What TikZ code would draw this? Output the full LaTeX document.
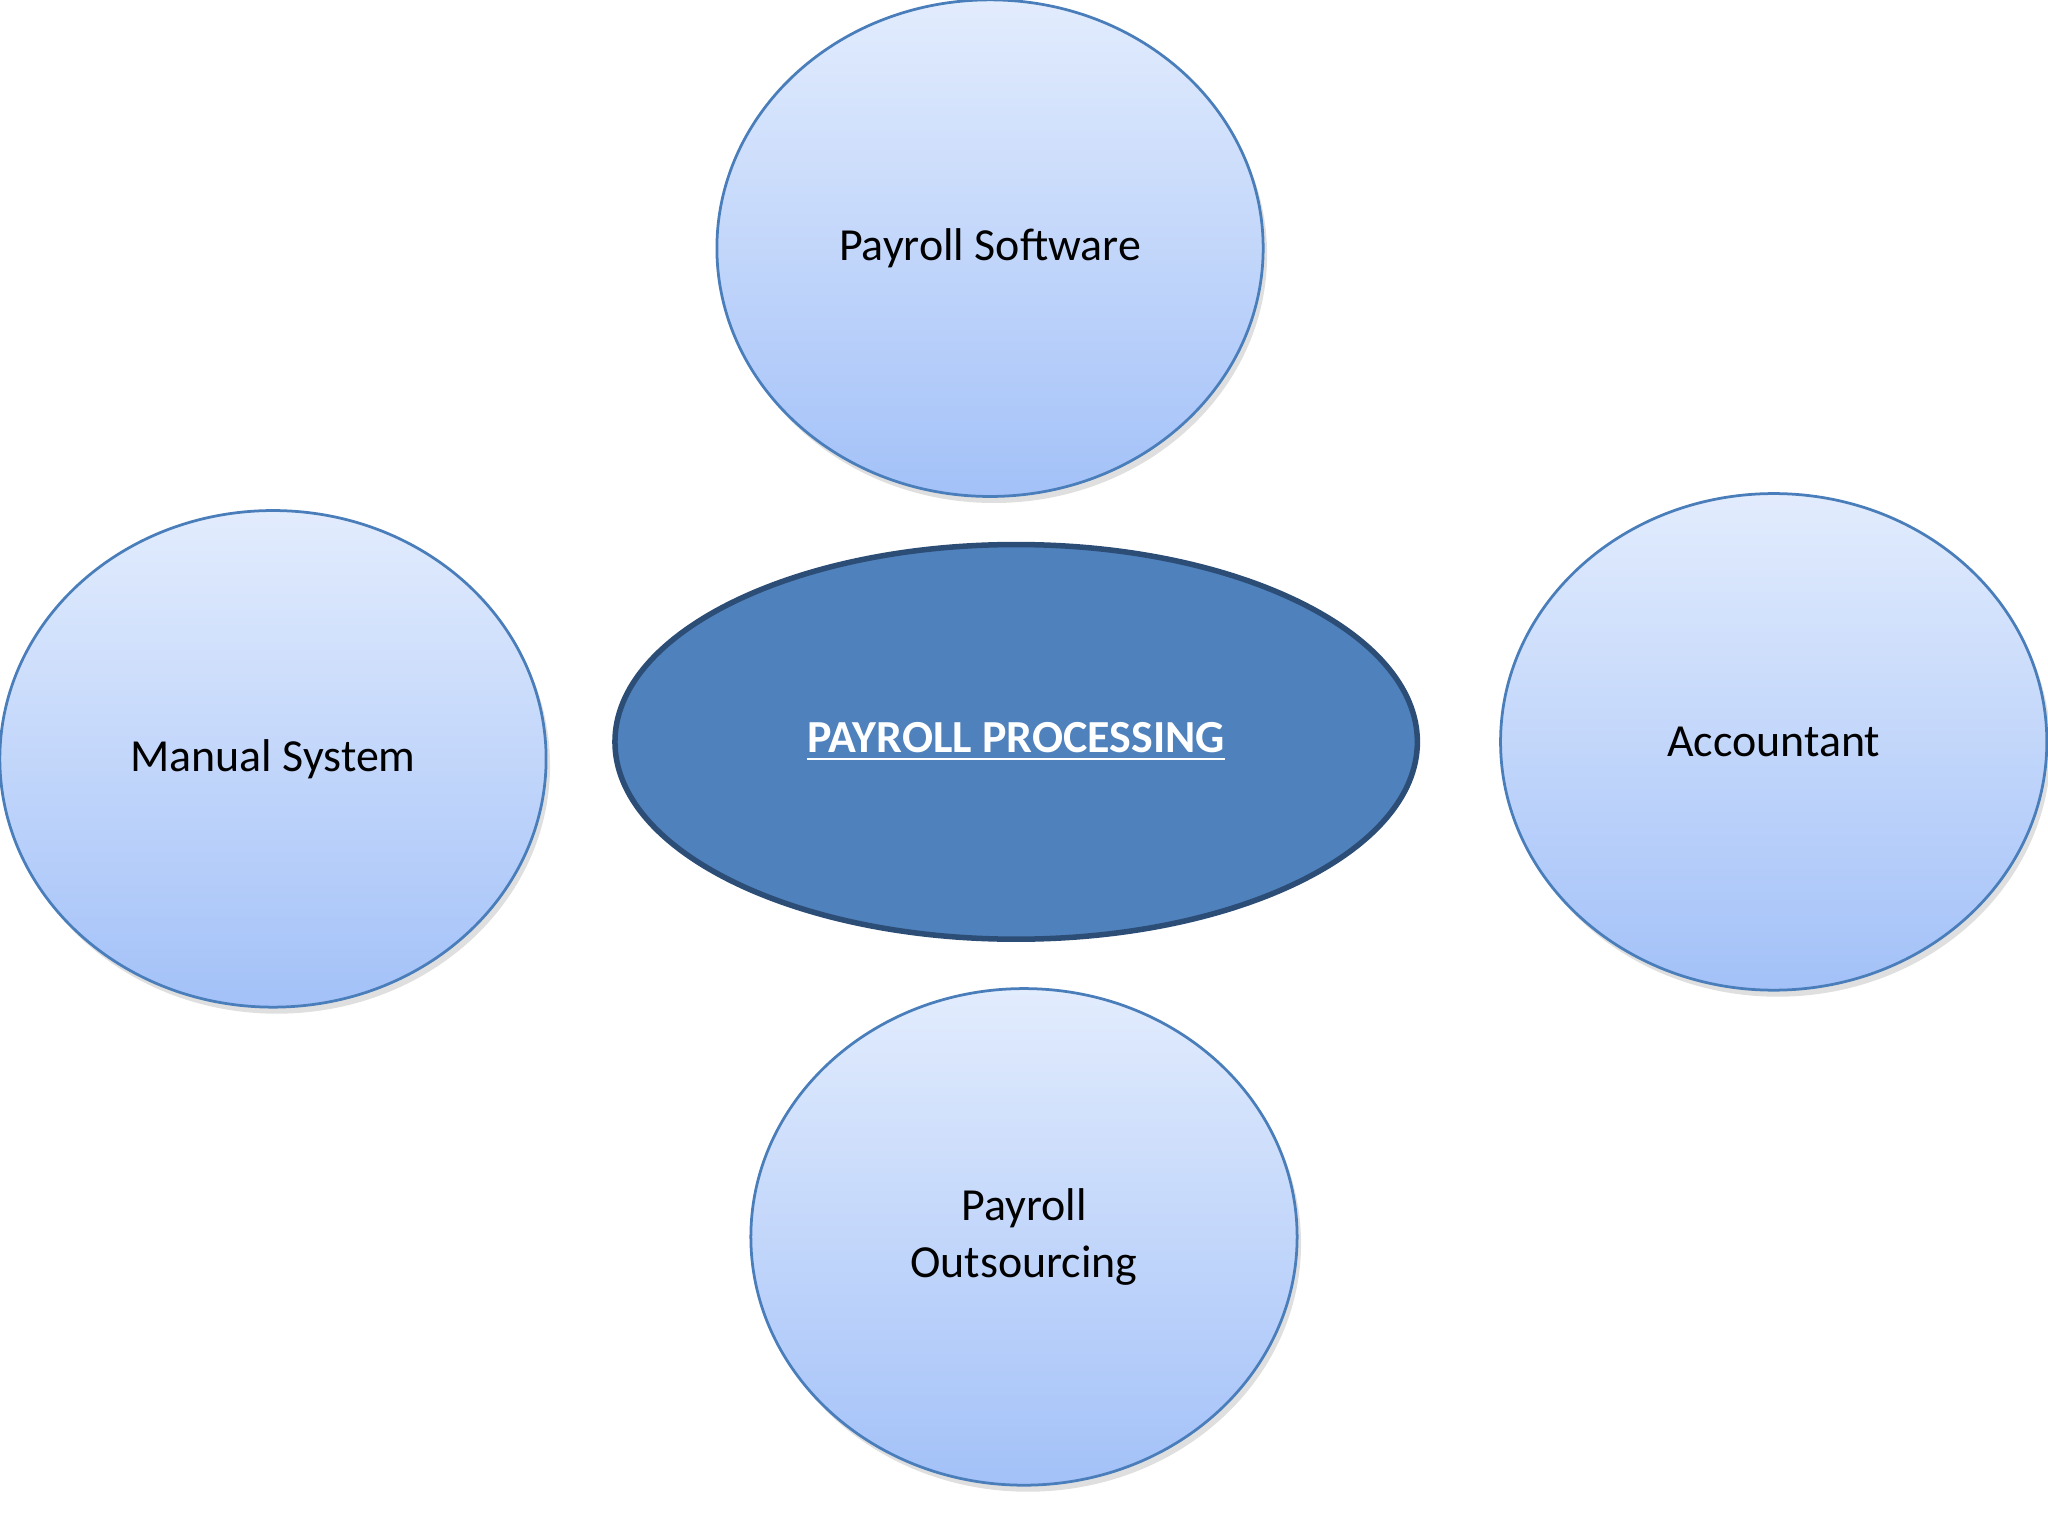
\documentclass[tikz,border=0pt]{standalone}
\usepackage{fontspec}
\setmainfont{Carlito}
\usetikzlibrary{shadows,shapes.geometric}
\definecolor{ltop}{HTML}{E2ECFD}
\definecolor{lbot}{HTML}{A3C1F8}
\definecolor{bord}{HTML}{4A7EBB}
\definecolor{cfill}{HTML}{4F81BD}
\definecolor{cbord}{HTML}{2C4D75}
\begin{document}
\begin{tikzpicture}[x=0.01cm,y=-0.01cm,
  sat/.style={ellipse,draw=bord,line width=0.6pt,top color=ltop,bottom color=lbot,
    minimum width=4.18cm,minimum height=3.8cm,align=center,
    font=\fontsize{10}{12.5}\selectfont,drop shadow={shadow xshift=0.03cm,shadow yshift=-0.05cm,opacity=0.25}},
  hub/.style={ellipse,draw=cbord,line width=1.2pt,fill=cfill,minimum width=6.14cm,minimum height=3.02cm,
    text=white,font=\fontsize{10}{12}\selectfont\bfseries}]
\useasboundingbox (0,0) rectangle (1568,1176);
\node[sat] (top) at (758,190) {Payroll Software};
\node[sat] (left) at (209,581) {Manual System};
\node[sat] (right) at (1358,568) {Accountant};
\node[sat] (bot) at (784,947) {Payroll\\Outsourcing};
\node[hub] (hub) at (778,568) {\underline{PAYROLL PROCESSING}};
\end{tikzpicture}
\end{document}
